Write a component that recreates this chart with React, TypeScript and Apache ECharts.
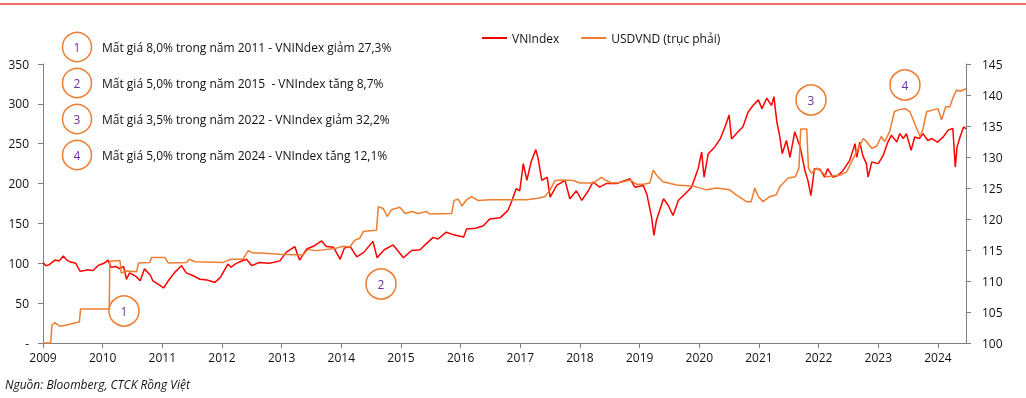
import React, { useEffect, useRef } from "react";
import * as echarts from "echarts";

const yearTicks = [2009, 2010, 2011, 2012, 2013, 2014, 2015, 2016, 2017, 2018, 2019, 2020, 2021, 2022, 2023, 2024];

// VNIndex (left axis) [year fraction, value]
const vnIndex: [number, number][] = [
  [2009.0, 101], [2009.05, 97], [2009.1, 98], [2009.2, 104], [2009.27, 103], [2009.34, 109], [2009.4, 104], [2009.45, 102], [2009.55, 100],
  [2009.62, 90], [2009.7, 91], [2009.75, 92], [2009.84, 91], [2009.92, 97], [2010.02, 100], [2010.09, 104],
  [2010.14, 95], [2010.22, 96], [2010.29, 93], [2010.35, 96], [2010.4, 80], [2010.45, 88], [2010.55, 84],
  [2010.63, 78], [2010.7, 93], [2010.8, 85], [2010.84, 78], [2010.95, 73], [2011.02, 69], [2011.1, 78],
  [2011.2, 88], [2011.32, 97], [2011.4, 88], [2011.5, 85], [2011.63, 80], [2011.75, 79], [2011.88, 76],
  [2011.97, 82], [2012.1, 99], [2012.15, 95], [2012.22, 99], [2012.3, 102], [2012.41, 105], [2012.5, 97],
  [2012.62, 101], [2012.8, 100], [2012.97, 103], [2013.08, 114], [2013.22, 121], [2013.3, 104],
  [2013.42, 118], [2013.55, 122], [2013.67, 128], [2013.75, 121], [2013.87, 120], [2013.98, 105],
  [2014.05, 119], [2014.15, 121], [2014.26, 108], [2014.38, 114], [2014.53, 127.5], [2014.6, 107],
  [2014.72, 117], [2014.87, 123], [2015.04, 107], [2015.18, 116], [2015.32, 117], [2015.43, 125],
  [2015.54, 132.5], [2015.62, 130.5], [2015.76, 139], [2015.87, 136], [2015.99, 134], [2016.05, 133],
  [2016.1, 143], [2016.25, 144], [2016.38, 147], [2016.49, 155.7], [2016.66, 157], [2016.79, 166],
  [2016.85, 176.6], [2016.93, 193.5], [2016.99, 191], [2017.05, 225], [2017.11, 204], [2017.18, 227],
  [2017.26, 242.6], [2017.3, 231], [2017.36, 204], [2017.45, 208], [2017.5, 183], [2017.61, 197.7],
  [2017.75, 204], [2017.83, 181], [2017.94, 191], [2018.03, 179], [2018.14, 191], [2018.22, 202],
  [2018.33, 195.5], [2018.44, 200], [2018.61, 200], [2018.84, 206], [2018.92, 195.5], [2019.06, 197.7],
  [2019.12, 187], [2019.2, 158], [2019.24, 135], [2019.28, 153.6], [2019.4, 181], [2019.48, 172.5],
  [2019.56, 160], [2019.65, 179], [2019.76, 187], [2019.87, 195.5], [2019.98, 218.7], [2020.04, 239.6],
  [2020.08, 208], [2020.15, 237.5], [2020.26, 246], [2020.35, 256], [2020.43, 271], [2020.5, 286],
  [2020.54, 256], [2020.65, 265], [2020.73, 271], [2020.82, 290], [2020.9, 298], [2020.99, 305],
  [2021.05, 294], [2021.13, 307], [2021.21, 298], [2021.25, 309], [2021.3, 277], [2021.35, 258.5],
  [2021.39, 237.5], [2021.46, 254], [2021.52, 233], [2021.6, 265], [2021.69, 246], [2021.77, 216.5],
  [2021.82, 204], [2021.87, 185], [2021.93, 218.7], [2022.02, 218], [2022.1, 208], [2022.15, 218.7],
  [2022.24, 208], [2022.32, 210], [2022.41, 216.5], [2022.52, 229], [2022.61, 250], [2022.64, 233],
  [2022.69, 252], [2022.74, 235], [2022.8, 225], [2022.83, 208], [2022.89, 227], [2023.0, 225],
  [2023.08, 235], [2023.16, 252], [2023.22, 260.6], [2023.31, 252], [2023.36, 262.7], [2023.42, 256.5],
  [2023.47, 262.7], [2023.55, 241.7], [2023.61, 258.5], [2023.69, 256.5], [2023.75, 262.7], [2023.83, 254],
  [2023.9, 256.5], [2023.99, 252], [2024.09, 258.5], [2024.17, 267], [2024.25, 269], [2024.29, 220.7],
  [2024.32, 246], [2024.37, 258.5], [2024.43, 271], [2024.47, 269],
];

// USDVND (right axis) [year fraction, value]
const usdVnd: [number, number][] = [
  [2009.0, 100], [2009.13, 100], [2009.15, 102.9], [2009.2, 103.3], [2009.28, 102.7], [2009.4, 102.9],
  [2009.51, 103.2], [2009.61, 103.4], [2009.63, 105.5], [2010.11, 105.5], [2010.12, 113.2], [2010.29, 113.3],
  [2010.31, 111.3], [2010.4, 111.6], [2010.57, 111.5], [2010.6, 112.9], [2010.79, 113], [2010.82, 113.8],
  [2011.04, 113.8], [2011.1, 112.9], [2011.41, 113], [2011.45, 113.5], [2011.55, 113.1], [2012.02, 113],
  [2012.15, 113.5], [2012.35, 113.5], [2012.44, 114.9], [2012.52, 114.5], [2012.64, 114.5], [2012.97, 114.3],
  [2013.36, 114.2], [2013.44, 115.1], [2013.58, 114.9], [2013.92, 115.3], [2014.03, 115.6], [2014.14, 115.5],
  [2014.23, 116.6], [2014.31, 116.9], [2014.37, 118], [2014.48, 118.1], [2014.59, 118.2], [2014.62, 122],
  [2014.7, 121.7], [2014.77, 120.4], [2014.84, 121.5], [2014.98, 121.9], [2015.07, 120.9], [2015.18, 121.2],
  [2015.29, 120.9], [2015.43, 121.2], [2015.48, 120.8], [2015.85, 120.9], [2015.89, 123], [2015.96, 123.2],
  [2016.02, 122.1], [2016.1, 123.1], [2016.18, 123.6], [2016.29, 123], [2016.49, 123.1], [2016.83, 123.1],
  [2017.1, 123.1], [2017.27, 123.3], [2017.41, 123.6], [2017.5, 124.7], [2017.58, 126.2], [2017.72, 126.3],
  [2017.89, 126.2], [2018.0, 125.8], [2018.22, 125.8], [2018.36, 126.7], [2018.42, 126.3], [2018.53, 125.8],
  [2018.67, 125.9], [2018.84, 126.3], [2018.95, 125.6], [2019.06, 125.6], [2019.17, 125.8], [2019.23, 127.9],
  [2019.28, 127.1], [2019.39, 126], [2019.62, 125.5], [2019.9, 125.3], [2020.12, 124.7], [2020.29, 125],
  [2020.51, 124.7], [2020.62, 123.9], [2020.79, 122.8], [2020.87, 122.8], [2020.93, 125], [2020.99, 123.6],
  [2021.07, 122.8], [2021.18, 123.6], [2021.29, 123.9], [2021.35, 125.2], [2021.49, 126.6], [2021.61, 126.8],
  [2021.67, 128.2], [2021.7, 134.5], [2021.8, 134.5], [2021.83, 128.2], [2021.88, 127.4], [2021.97, 128.2],
  [2022.05, 127.6], [2022.14, 126.8], [2022.36, 127.1], [2022.47, 127.6], [2022.55, 129.2], [2022.64, 130.9],
  [2022.75, 133], [2022.8, 132.5], [2022.89, 131.4], [2022.97, 131.7], [2023.05, 133.3], [2023.11, 132.5],
  [2023.19, 134.1], [2023.27, 137.3], [2023.33, 137.6], [2023.45, 137.8], [2023.53, 137.3], [2023.61, 135.4],
  [2023.7, 133.3], [2023.75, 134.6], [2023.81, 137.3], [2023.92, 137.6], [2024.0, 137.8], [2024.06, 136],
  [2024.13, 138.1], [2024.2, 138.1], [2024.25, 139.5], [2024.31, 140.8], [2024.37, 140.6], [2024.47, 141],
];

const seriesNames = ["VNIndex", "USDVND (trục phải)"];
const notes = [
  "Mất giá 8,0% trong năm 2011 - VNINdex giảm 27,3%",
  "Mất giá 5,0% trong năm 2015  - VNIndex tăng 8,7%",
  "Mất giá 3,5% trong năm 2022 - VNIndex giảm 32,2%",
  "Mất giá 5,0% trong năm 2024 - VNIndex tăng 12,1%",
];
const sourceText = "Nguồn: Bloomberg, CTCK Rồng Việt";

const RED = "#FF0000";
const ORANGE = "#ED7D31";
const PURPLE = "#7030A0";
const AXIS = "#808080";
const FONT = "'Open Sans', sans-serif";

export default function App() {
  const ref = useRef<HTMLDivElement>(null);
  useEffect(() => {
    document.body.style.margin = "0";
    const chart = echarts.init(ref.current!, null, { renderer: "svg" });
    const circle = (cx: number, cy: number, r: number, label: string) => ({
      type: "group",
      children: [
        { type: "circle", shape: { cx, cy, r }, style: { fill: "none", stroke: ORANGE, lineWidth: 1.5 } },
        {
          type: "text",
          x: cx,
          y: cy,
          style: { text: label, fill: PURPLE, font: `12px ${FONT}`, align: "center", verticalAlign: "middle" },
        },
      ],
    });
    const noteY = [47, 83, 119, 155];
    const graphics: any[] = [
      { type: "line", shape: { x1: 0, y1: 4, x2: 1026, y2: 4 }, style: { stroke: "#EE3B3B", lineWidth: 1.5 } },
    ];
    notes.forEach((t, i) => {
      graphics.push(circle(77, noteY[i], 14.5, String(i + 1)));
      graphics.push({
        type: "text",
        x: 102,
        y: noteY[i],
        style: { text: t, fill: "#111", font: `12px ${FONT}`, verticalAlign: "middle" },
      });
    });
    graphics.push(circle(124, 311, 15, "1"));
    graphics.push(circle(381, 284, 15, "2"));
    graphics.push(circle(811, 100, 15, "3"));
    graphics.push(circle(905, 85, 15, "4"));
    graphics.push({
      type: "text",
      x: 5,
      y: 384,
      style: { text: sourceText, fill: "#111", font: `italic 12px ${FONT}`, verticalAlign: "middle" },
    });

    chart.setOption({
      animation: false,
      grid: { left: 43, right: 60, top: 64, bottom: 55 },
      legend: {
        left: 477,
        top: 27,
        icon: "rect",
        itemWidth: 25,
        itemHeight: 2,
        itemGap: 22,
        textStyle: { fontFamily: FONT, fontSize: 12, color: "#111" },
        data: seriesNames,
      },
      xAxis: {
        type: "value",
        min: 2009,
        max: 2024.47,
        interval: 1,
        splitLine: { show: false },
        axisLine: { lineStyle: { color: AXIS } },
        axisTick: { show: true, length: 5, lineStyle: { color: AXIS }, customValues: yearTicks },
        axisLabel: {
          customValues: yearTicks,
          color: "#111",
          fontFamily: FONT,
          fontSize: 12,
          margin: 8,
          formatter: (v: number) => String(v),
        },
      },
      yAxis: [
        {
          type: "value",
          min: 0,
          max: 350,
          interval: 50,
          splitLine: { show: false },
          axisLine: { show: true, lineStyle: { color: AXIS } },
          axisTick: { show: true, length: 5, lineStyle: { color: AXIS } },
          axisLabel: {
            color: "#111",
            fontFamily: FONT,
            fontSize: 12,
            margin: 14,
            formatter: (v: number) => (v === 0 ? "-" : String(v)),
          },
        },
        {
          type: "value",
          min: 100,
          max: 145,
          interval: 5,
          position: "right",
          splitLine: { show: false },
          axisLine: { show: true, lineStyle: { color: AXIS } },
          axisTick: { show: true, length: 5, lineStyle: { color: AXIS } },
          axisLabel: { color: "#111", fontFamily: FONT, fontSize: 12, margin: 16 },
        },
      ],
      series: [
        {
          name: seriesNames[0],
          type: "line",
          yAxisIndex: 0,
          showSymbol: false,
          data: vnIndex,
          itemStyle: { color: RED },
          lineStyle: { color: RED, width: 1.5 },
        },
        {
          name: seriesNames[1],
          type: "line",
          yAxisIndex: 1,
          showSymbol: false,
          data: usdVnd,
          itemStyle: { color: ORANGE },
          lineStyle: { color: ORANGE, width: 1.5 },
        },
      ],
      graphic: graphics,
    });
    return () => chart.dispose();
  }, []);
  return <div ref={ref} style={{ position: "fixed", left: 0, top: 0, width: 1026, height: 398 }} />;
}
